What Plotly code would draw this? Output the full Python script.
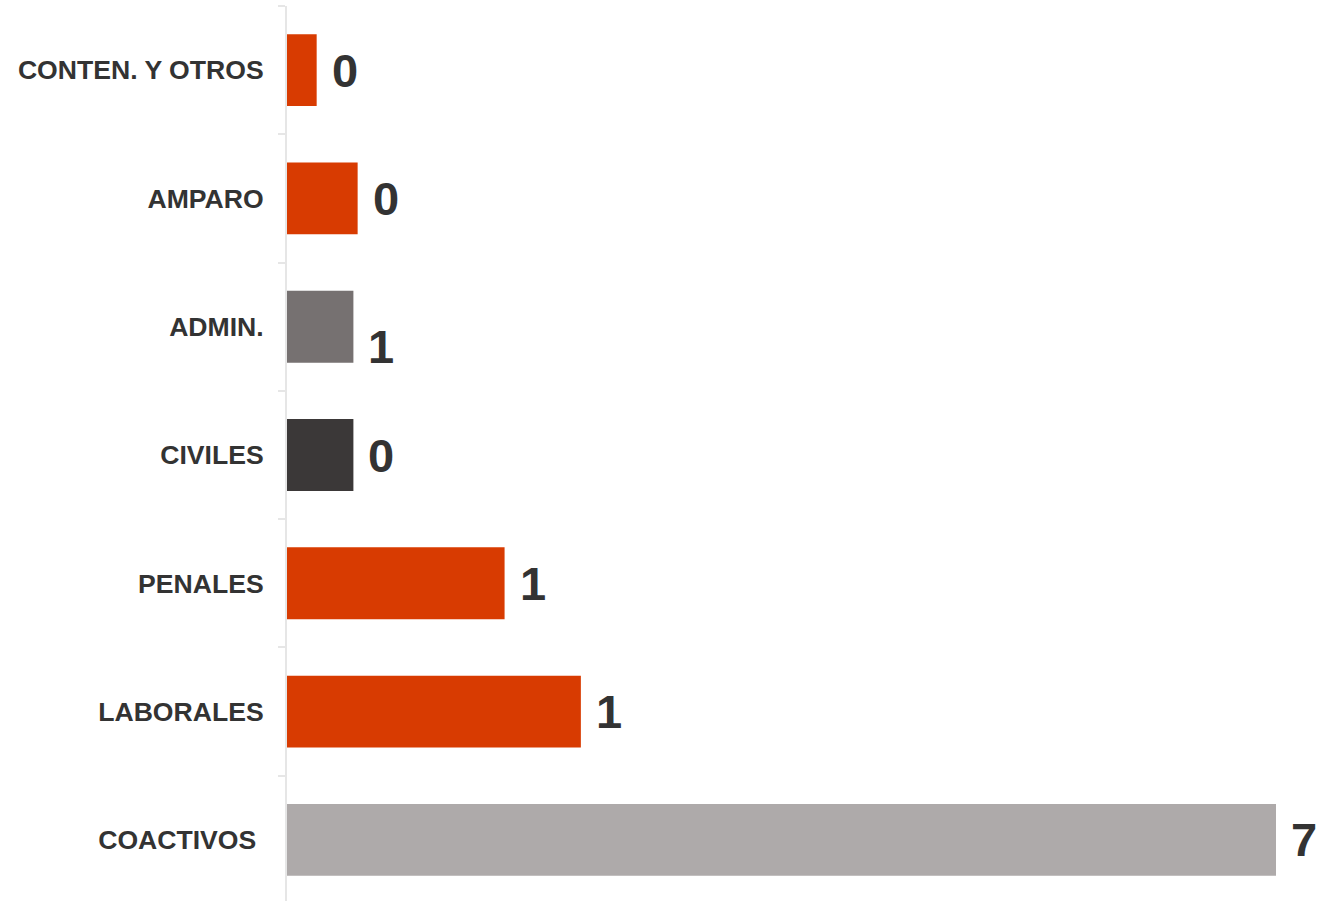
import plotly.graph_objects as go

categories = ["CONTEN. Y OTROS", "AMPARO", "ADMIN.", "CIVILES", "PENALES", "LABORALES", "COACTIVOS\u00a0"]
bar_values = [0.21, 0.50, 0.47, 0.47, 1.54, 2.08, 7.0]
value_labels = ["0", "0", "1", "0", "1", "1", "7"]
bar_colors = ["#D83B01", "#D83B01", "#767171", "#3B3838", "#D83B01", "#D83B01", "#AEAAAA"]
label_yshift = [0, 0, -20, 0, 0, 0, 0]

FONT = "Liberation Sans, Arial, sans-serif"

fig = go.Figure()
fig.add_trace(go.Bar(
    x=bar_values, y=categories, orientation="h",
    marker=dict(color=bar_colors, line=dict(width=0)),
    width=0.56, hoverinfo="skip",
))

for cat, v, lab, ys in zip(categories, bar_values, value_labels, label_yshift):
    fig.add_annotation(
        x=v, y=cat, xref="x", yref="y", text=lab, showarrow=False,
        xanchor="left", yanchor="middle", xshift=13, yshift=ys,
        font=dict(family=FONT, size=47, color="#333333", weight="bold"),
    )

fig.update_layout(
    width=1322, height=904,
    margin=dict(l=287, r=46, t=6, b=0),
    plot_bgcolor="white", paper_bgcolor="white",
    showlegend=False,
    font=dict(family=FONT),
)
fig.update_xaxes(range=[0, 7], visible=False, showgrid=False, zeroline=False)
fig.update_yaxes(
    autorange="reversed", showline=True, linecolor="#E6E6E6", linewidth=2,
    ticks="outside", tickson="boundaries", ticklen=7, tickcolor="#E6E6E6", tickwidth=2,
    showgrid=False, zeroline=False, ticklabelstandoff=16,
    tickfont=dict(family=FONT, size=26.6, color="#333333", weight="bold"),
)

fig.write_html(
    "out.html",
    config={"displayModeBar": False},
    post_script="document.body.style.margin='0';document.body.style.overflow='hidden';",
)
